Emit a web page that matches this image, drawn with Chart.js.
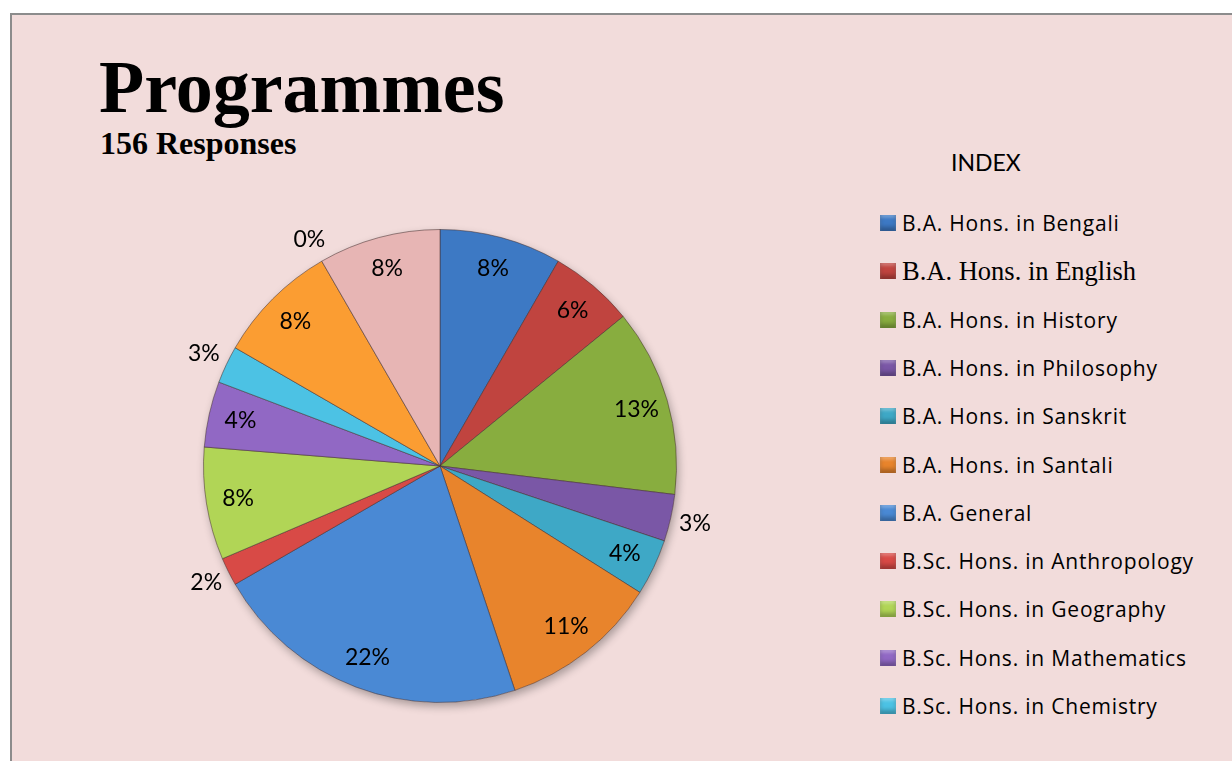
<!DOCTYPE html>
<html>
<head>
<meta charset="utf-8">
<script src="https://cdn.jsdelivr.net/npm/chart.js@4.4.1/dist/chart.umd.min.js"></script>
<style>
  html, body { margin: 0; padding: 0; background: #ffffff; }
  body { width: 1232px; height: 761px; position: relative; overflow: hidden; }
  #frame {
    position: absolute; left: 10px; top: 13px; width: 1240px; height: 760px;
    background: #F2DCDB; border-left: 2px solid #8c8c8c; border-top: 2px solid #8c8c8c;
  }
  #chart { position: absolute; left: 0; top: 0; }
  .title {
    position: absolute; left: 99px; top: 50px; margin: 0;
    font: bold 74px "Liberation Serif", "Times New Roman", serif; line-height: 74px; color: #000;
  }
  .subtitle {
    position: absolute; left: 100px; top: 127px; margin: 0;
    font: bold 32px "Liberation Serif", "Times New Roman", serif; line-height: 32px; color: #000;
  }
  .index-title {
    position: absolute; left: 951px; top: 148px; height: 24px; line-height: 24px;
    font: 23px Lato, sans-serif; color: #000;
  }
  .legend-row {
    position: absolute; left: 880px; height: 24px; display: flex; align-items: center;
    font: 21px "Open Sans", sans-serif; letter-spacing: 0.8px; line-height: 24px;
    color: #000; white-space: nowrap;
  }
  .legend-row .box { width: 16px; height: 16px; margin-right: 6px; flex: none; }
</style>
</head>
<body>
<div id="frame"></div>
<div class="title">Programmes</div>
<div class="subtitle">156 Responses</div>
<div class="index-title">INDEX</div>
<div id="legend"></div>
<canvas id="chart" width="1232" height="761"></canvas>
<script>
// programmes in the order the pie runs, clockwise from 12 o'clock
const programmes = [
  'B.A. Hons. in Bengali',
  'B.A. Hons. in English',
  'B.A. Hons. in History',
  'B.A. Hons. in Philosophy',
  'B.A. Hons. in Sanskrit',
  'B.A. Hons. in Santali',
  'B.A. General',
  'B.Sc. Hons. in Anthropology',
  'B.Sc. Hons. in Geography',
  'B.Sc. Hons. in Mathematics',
  'B.Sc. Hons. in Chemistry',
  'Programme 12',
  'Programme 13',
  'Programme 14'
];
// responses per programme (156 total)
const responses = [13, 9, 20, 5, 6, 17, 34, 3, 12, 7, 4, 13, 0, 13];
const sliceColors = [
  '#3d79c4', '#c0443f', '#88ad3f', '#7a57a6', '#3ea8c6', '#e8842c',
  '#4a89d4', '#d84a46', '#b1d556', '#9168c4', '#4cc2e4', '#fb9d32',
  '#d98a88', '#e7b5b4'
];
// only these entries are visible in the index
const legendCount = 11;

const total = responses.reduce((a, b) => a + b, 0);

// build the index (legend) from the same arrays
const legend = document.getElementById('legend');
programmes.slice(0, legendCount).forEach((name, i) => {
  const row = document.createElement('div');
  row.className = 'legend-row';
  row.style.top = (211 + i * 48.3) + 'px';
  const box = document.createElement('span');
  box.className = 'box';
  box.style.background = sliceColors[i];
  box.style.boxShadow = 'inset 0 -4px 4px rgba(0,0,0,0.28), inset 0 3px 3px rgba(255,255,255,0.25)';
  const txt = document.createElement('span');
  txt.textContent = name;
  if (i === 1) {
    txt.style.font = '26.5px "Liberation Serif", "Times New Roman", serif';
    txt.style.letterSpacing = '0';
  }
  row.appendChild(box);
  row.appendChild(txt);
  legend.appendChild(row);
});

// soft shadow under the pie
const pieShadow = {
  id: 'pieShadow',
  beforeDatasetsDraw(chart) {
    const arc = chart.getDatasetMeta(0).data[0];
    if (!arc) return;
    const p = arc.getProps(['x', 'y', 'outerRadius'], true);
    const ctx = chart.ctx;
    ctx.save();
    ctx.shadowColor = 'rgba(0, 0, 0, 0.3)';
    ctx.shadowBlur = 8;
    ctx.shadowOffsetX = 2;
    ctx.shadowOffsetY = 4;
    ctx.fillStyle = '#F2DCDB';
    ctx.beginPath();
    ctx.arc(p.x, p.y, p.outerRadius, 0, Math.PI * 2);
    ctx.fill();
    ctx.restore();
  }
};

// percentage labels, inside for big slices, outside for small ones
const percentLabels = {
  id: 'percentLabels',
  afterDatasetsDraw(chart) {
    const ctx = chart.ctx;
    const meta = chart.getDatasetMeta(0);
    ctx.save();
    ctx.font = '23px Lato, sans-serif';
    ctx.fillStyle = '#000';
    ctx.textAlign = 'center';
    ctx.textBaseline = 'middle';
    meta.data.forEach((arc, i) => {
      const p = arc.getProps(['x', 'y', 'startAngle', 'endAngle', 'outerRadius'], true);
      const share = responses[i] / total;
      const mid = (p.startAngle + p.endAngle) / 2;
      const r = share < 0.035 ? p.outerRadius * 1.105 : p.outerRadius * 0.865;
      ctx.fillText(Math.round(share * 100) + '%', p.x + Math.cos(mid) * r, p.y + Math.sin(mid) * r);
    });
    ctx.restore();
  }
};

new Chart(document.getElementById('chart'), {
  type: 'pie',
  data: {
    labels: programmes,
    datasets: [{
      data: responses,
      backgroundColor: sliceColors,
      borderColor: 'rgba(70, 50, 50, 0.55)',
      borderWidth: 1
    }]
  },
  options: {
    responsive: false,
    animation: false,
    devicePixelRatio: 1,
    layout: { padding: { left: 203, right: 555, top: 229, bottom: 58 } },
    plugins: {
      legend: { display: false },
      tooltip: { enabled: false }
    }
  },
  plugins: [pieShadow, percentLabels]
});
</script>
</body>
</html>
